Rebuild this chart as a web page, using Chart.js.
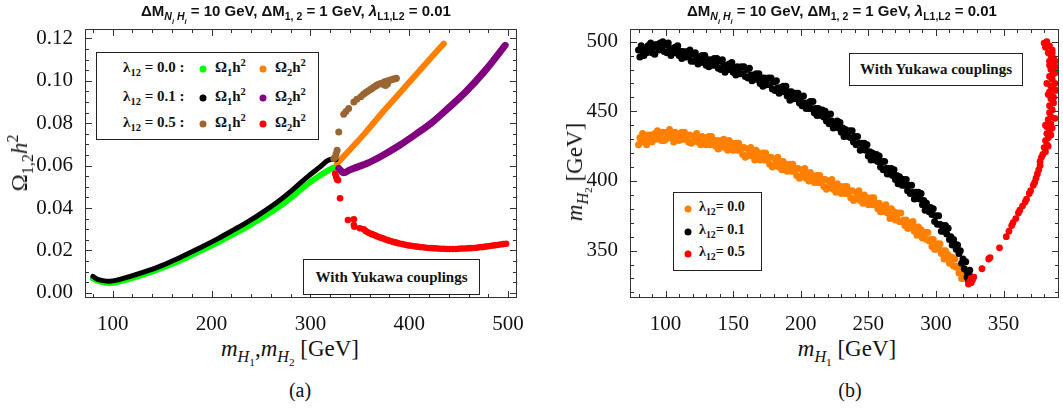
<!DOCTYPE html>
<html>
<head>
<meta charset="utf-8">
<script src="https://cdn.jsdelivr.net/npm/chart.js@4"></script>
<style>
body{margin:0;width:1063px;height:411px;overflow:hidden;background:#fff;position:relative;font-family:'Liberation Serif',serif;color:#111}
.abs{position:absolute;white-space:nowrap}
.c{transform:translate(-50%,-50%)}
.title{font:bold 15px 'Liberation Sans',Arial,sans-serif}
.axt{font-size:23px}
.cap{font-size:20px}
.box{position:absolute;border:1.5px solid #222;background:#fff;box-sizing:border-box}
.lg{font-weight:bold;font-size:15px}
.dot{position:absolute;width:7px;height:7px;border-radius:50%;transform:translate(-50%,-50%)}
.yk{font-weight:bold;font-size:15px;display:flex;align-items:center;justify-content:center}
sub,sup{font-size:70%;line-height:0}
</style>
</head>
<body>
<div class="abs" style="left:0;top:0;width:530px;height:330px"><canvas id="ca"></canvas></div>
<div class="abs" style="left:545px;top:0;width:518px;height:330px"><canvas id="cb"></canvas></div>

<div class="abs c title" style="left:296px;top:12px">ΔM<sub><i>N<sub>i</sub> H<sub>i</sub></i></sub> = 10 GeV, ΔM<sub>1, 2</sub> = 1 GeV, <i>λ</i><sub>L1,L2</sub> = 0.01</div>
<div class="abs c title" style="left:842px;top:12px">ΔM<sub><i>N<sub>i</sub> H<sub>i</sub></i></sub> = 10 GeV, ΔM<sub>1, 2</sub> = 1 GeV, <i>λ</i><sub>L1,L2</sub> = 0.01</div>

<div class="abs c axt" style="left:20px;top:163px;transform:translate(-50%,-50%) rotate(-90deg)">Ω<sub>1,2</sub><i>h</i><sup>2</sup></div>
<div class="abs c axt" style="left:575px;top:172px;transform:translate(-50%,-50%) rotate(-90deg)"><i>m</i><sub><i>H</i><sub>2</sub></sub> [GeV]</div>
<div class="abs c axt" style="left:290px;top:349px"><i>m</i><sub><i>H</i><sub>1</sub></sub>,<i>m</i><sub><i>H</i><sub>2</sub></sub> [GeV]</div>
<div class="abs c axt" style="left:847px;top:349px"><i>m</i><sub><i>H</i><sub>1</sub></sub> [GeV]</div>
<div class="abs c cap" style="left:300px;top:390px">(a)</div>
<div class="abs c cap" style="left:850px;top:390px">(b)</div>

<div class="box" style="left:96px;top:52px;width:223px;height:88px"></div>
<div class="abs lg" style="left:123px;top:59px">λ<sub>12</sub> = 0.0 :</div>
<div class="abs lg" style="left:123px;top:88px">λ<sub>12</sub> = 0.1 :</div>
<div class="abs lg" style="left:123px;top:114px">λ<sub>12</sub> = 0.5 :</div>
<div class="dot" style="left:203px;top:69px;background:#00ff00"></div>
<div class="dot" style="left:203px;top:98px;background:#000"></div>
<div class="dot" style="left:203px;top:124px;background:#996633"></div>
<div class="dot" style="left:263px;top:69px;background:#ff8000"></div>
<div class="dot" style="left:263px;top:98px;background:#800080"></div>
<div class="dot" style="left:263px;top:124px;background:#ff0000"></div>
<div class="abs lg" style="left:215px;top:59px">Ω<sub>1</sub>h<sup>2</sup></div>
<div class="abs lg" style="left:215px;top:88px">Ω<sub>1</sub>h<sup>2</sup></div>
<div class="abs lg" style="left:215px;top:114px">Ω<sub>1</sub>h<sup>2</sup></div>
<div class="abs lg" style="left:275px;top:59px">Ω<sub>2</sub>h<sup>2</sup></div>
<div class="abs lg" style="left:275px;top:88px">Ω<sub>2</sub>h<sup>2</sup></div>
<div class="abs lg" style="left:275px;top:114px">Ω<sub>2</sub>h<sup>2</sup></div>
<div class="box yk" style="left:303px;top:259px;width:177px;height:36px">With Yukawa couplings</div>

<div class="box" style="left:673px;top:192px;width:89px;height:79px"></div>
<div class="dot" style="left:688px;top:209px;background:#ff8000"></div>
<div class="dot" style="left:688px;top:232px;background:#000"></div>
<div class="dot" style="left:688px;top:254px;background:#ff0000"></div>
<div class="abs lg" style="left:699px;top:199px;font-size:14px">λ<sub>12</sub>= 0.0</div>
<div class="abs lg" style="left:699px;top:222px;font-size:14px">λ<sub>12</sub>= 0.1</div>
<div class="abs lg" style="left:699px;top:244px;font-size:14px">λ<sub>12</sub>= 0.5</div>
<div class="box yk" style="left:849px;top:53px;width:174px;height:33px">With Yukawa couplings</div>

<script>
// ---- panel (a): relic density vs mass ----
var xTicksA = [100, 200, 300, 400, 500];
var yTicksA = [0, 0.02, 0.04, 0.06, 0.08, 0.10, 0.12];

var greenA = [[80,0.0068],[85,0.0058],[90,0.0051],[97,0.0047],[105,0.0052],[117,0.0066],[132,0.0088],[147,0.0113],[162,0.0141],[177,0.0172],[192,0.0205],[207,0.0240],[222,0.0277],[237,0.0315],[252,0.0357],[267,0.0402],[282,0.0455],[297,0.0513],[310,0.0555],[318,0.0578],[323,0.0590]];
var blackA = [[80,0.0078],[84,0.0066],[90,0.0058],[97,0.0055],[105,0.0061],[117,0.0077],[132,0.0099],[147,0.0124],[162,0.0154],[177,0.0187],[192,0.0221],[207,0.0257],[222,0.0296],[237,0.0336],[252,0.0381],[267,0.0430],[282,0.0486],[297,0.0547],[310,0.0595],[318,0.0625],[323,0.0630],[326,0.0628]];
var orangeA = [[327,0.0610],[340,0.0675],[355,0.0752],[373.7,0.0855],[390,0.0940],[407,0.1030],[420,0.1098],[435,0.1175]];
var purpleA = [[328.7,0.0587],[331,0.0575],[333.7,0.0566],[340,0.0580],[348,0.0594],[357,0.0610],[373,0.0648],[390.3,0.0696],[407,0.0749],[423.7,0.0806],[440,0.0873],[457,0.0947],[477,0.1049],[497,0.1167]];
var brownA = [[323.7,0.0634],[325,0.0640],[326,0.0655],[327,0.0673],[328.7,0.0759],[333.7,0.0842],[336,0.0855],[338.7,0.0869],[344,0.0900],[347,0.0913],[351,0.0925],[353.7,0.0936],[356,0.0945],[358,0.0950],[360.3,0.0958],[362,0.0962],[364,0.0970],[366,0.0975],[367,0.0979],[369,0.0983],[371,0.0987],[373.7,0.0990],[375,0.0995],[377,0.0998],[379,0.1000],[380.3,0.1002],[382,0.1005],[384,0.1008],[386,0.1010],[387,0.1012],[376,0.0978],[378,0.0985],[374,0.0982]];
var redA = [[325,0.0563],[326,0.0548],[327,0.0535],[328,0.0531],[330,0.0446],[338,0.0344],[344,0.0347],[344,0.0320],[344.5,0.0312],[350,0.0305],[354,0.0300],[356,0.0292],[358,0.0286],[360,0.0281],[362,0.0277],[364,0.0274],[366,0.0270],[368,0.0266],[370,0.0262],[372,0.0259],[374,0.0256],[376,0.0252],[378,0.0249],[380,0.0246],[382,0.0243],[384,0.0240],[386,0.0238],[388,0.0235],[390,0.0233],[393,0.0230],[396,0.0227],[399,0.0224],[402,0.0222],[405,0.0220],[408,0.0218],[411,0.0216],[414,0.0215],[417,0.0213],[420,0.0212],[423,0.0211],[426,0.0210],[429,0.0209],[432,0.0208],[435,0.0208],[438,0.0207],[441,0.0207],[444,0.0207],[447,0.0207],[450,0.0208],[453,0.0209],[456,0.0209],[459,0.0210],[462,0.0211],[465,0.0212],[468,0.0213],[471,0.0215],[474,0.0216],[477,0.0218],[480,0.0220],[483,0.0222],[486,0.0224],[489,0.0226],[492,0.0228],[495,0.0230],[498,0.0232]];

// ---- panel (b): m_H2 vs m_H1 ----
var xTicksB = [100, 150, 200, 250, 300, 350];
var yTicksB = [350, 400, 450, 500];

var orangeB = [[80,426],[81,431],[82,429],[83,434],[84,428],[85,431],[86,426],[87,433],[88,430],[89,433],[90,428],[91,431],[92,434],[93,430],[94,436],[95,431],[96,433],[97,429],[98,435],[99,429],
[100,430],[101,435],[102,433],[103,437],[104,431],[105,434],[106,428],[107,435],[108,431],[109,434],[110,429],[111,432],[112,435],[113,430],[114,435],[115,430],[116,432],[117,428],[118,433],[119,427],
[120,428],[121,432],[122,430],[123,434],[124,428],[125,431],[126,426],[127,432],[128,428],[129,431],[130,426],[131,429],[132,432],[133,426],[134,432],[135,427],[136,429],[137,425],[138,429],[139,423],
[140,424],[141,429],[142,427],[143,430],[144,424],[145,427],[146,422],[147,429],[148,424],[149,427],[150,422],[151,425],[152,427],[153,422],[154,427],[155,422],[156,424],[157,419],[158,424],[159,417],
[160,418],[161,423],[162,420],[163,424],[164,418],[165,421],[166,415],[167,422],[168,418],[169,420],[170,415],[171,418],[172,420],[173,415],[174,420],[175,415],[176,417],[177,412],[178,417],[179,410],
[180,411],[181,416],[182,413],[183,417],[184,410],[185,413],[186,408],[187,414],[188,410],[189,412],[190,407],[191,410],[192,412],[193,407],[194,412],[195,407],[196,409],[197,404],[198,409],[199,402],
[200,403],[201,408],[202,405],[203,409],[204,402],[205,405],[206,400],[207,406],[208,402],[209,404],[210,399],[211,402],[212,404],[213,399],[214,404],[215,399],[216,401],[217,396],[218,401],[219,394],
[220,395],[221,400],[222,397],[223,401],[224,394],[225,397],[226,392],[227,398],[228,394],[229,396],[230,391],[231,394],[232,396],[233,391],[234,396],[235,391],[236,393],[237,388],[238,393],[239,386],
[240,387],[241,392],[242,389],[243,393],[244,386],[245,389],[246,384],[247,390],[248,386],[249,388],[250,383],[251,386],[252,388],[253,383],[254,388],[255,383],[256,384],[257,380],[258,384],[259,378],
[260,378],[261,382],[262,380],[263,383],[264,377],[265,379],[266,373],[267,380],[268,375],[269,378],[270,372],[271,374],[272,377],[273,371],[274,377],[275,371],[276,372],[277,368],[278,372],[279,366],
[280,366],[281,370],[282,368],[283,371],[284,364],[285,367],[286,361],[287,367],[288,362],[289,365],[290,359],[291,361],[292,363],[293,358],[294,363],[295,357],[296,358],[297,353],[298,358],[299,351],
[300,351],[301,355],[302,352],[303,355],[304,348],[305,350],[306,344],[307,350],[308,345],[309,347],[310,341],[311,343],[312,345],[313,339],[314,344],[315,338],[316,339],[317,334],[318,337],[319,330],
[320,330],[321,334],[322,331],[323,333],[324,327],[325,329]];
var blackB = [[80,494],[81,489],[82,497],[83,493],[84,490],[85,495],[86,492],[87,497],[88,494],[89,499],[90,492],[91,496],[92,491],[93,498],[94,496],[95,494],[96,499],[97,495],[98,500],[99,493],
[100,498],[101,492],[102,499],[103,495],[104,490],[105,495],[106,492],[107,496],[108,492],[109,497],[110,490],[111,493],[112,488],[113,493],[114,491],[115,489],[116,493],[117,489],[118,494],[119,486],
[120,491],[121,486],[122,492],[123,488],[124,484],[125,489],[126,485],[127,490],[128,486],[129,490],[130,483],[131,487],[132,482],[133,487],[134,485],[135,483],[136,488],[137,483],[138,488],[139,481],
[140,486],[141,480],[142,487],[143,483],[144,478],[145,483],[146,480],[147,484],[148,480],[149,485],[150,478],[151,481],[152,476],[153,482],[154,479],[155,477],[156,482],[157,477],[158,482],[159,475],
[160,480],[161,474],[162,481],[163,476],[164,472],[165,476],[166,473],[167,477],[168,473],[169,477],[170,470],[171,474],[172,468],[173,474],[174,471],[175,469],[176,474],[177,469],[178,474],[179,466],
[180,471],[181,465],[182,472],[183,467],[184,463],[185,467],[186,464],[187,468],[188,464],[189,468],[190,461],[191,464],[192,458],[193,464],[194,461],[195,459],[196,463],[197,459],[198,463],[199,456],
[200,460],[201,454],[202,461],[203,456],[204,452],[205,456],[206,452],[207,457],[208,452],[209,457],[210,449],[211,452],[212,447],[213,452],[214,449],[215,447],[216,451],[217,446],[218,450],[219,443],
[220,447],[221,441],[222,448],[223,443],[224,438],[225,442],[226,439],[227,443],[228,438],[229,442],[230,435],[231,438],[232,432],[233,437],[234,435],[235,432],[236,436],[237,431],[238,436],[239,428],
[240,432],[241,426],[242,432],[243,427],[244,422],[245,427],[246,423],[247,427],[248,422],[249,426],[250,418],[251,421],[252,415],[253,420],[254,417],[255,415],[256,419],[257,414],[258,418],[259,410],
[260,414],[261,408],[262,414],[263,409],[264,405],[265,409],[266,405],[267,409],[268,404],[269,408],[270,401],[271,404],[272,398],[273,403],[274,400],[275,397],[276,401],[277,397],[278,401],[279,393],
[280,397],[281,391],[282,397],[283,392],[284,387],[285,392],[286,388],[287,392],[288,387],[289,391],[290,383],[291,386],[292,379],[293,384],[294,381],[295,378],[296,381],[297,376],[298,380],[299,371],
[300,375],[301,369],[302,375],[303,369],[304,364],[305,368],[306,364],[307,368],[308,362],[309,366],[310,358],[311,360],[312,354],[313,358],[314,355],[315,351],[316,354],[317,348],[318,350],[319,341],
[320,344],[321,337],[322,342],[323,335],[324,329],[325,332],[326,330],[323,331],[325,336]];
var redB = [[324,326],[325,328],[326,327],[327,329],[328,331],[326,330],[334,337],[339,344],[340,345],[347,352],[352,360],[354,364],[356,368],[357,370],[359,373],[361,377],[362,379],[364,382],[366,385],[367,387],[369,391],[370,393],[372,397],[373,399],[374,402],[375,405],[376,408],[377,411],[377,414],[378,417],[379,419],[381,421],[380,424],[382,426],[381,429],[383,431],[382,434],[384,436],[382,439],[385,441],[383,444],[385,446],[384,449],[386,451],[384,454],[387,456],[385,459],[386,461],[384,464],[387,466],[385,468],[388,470],[386,473],[384,475],[387,477],[385,480],[388,482],[386,484],[384,486],[387,488],[385,490],[383,492],[386,494],[381,496],[384,497],[380,499],[382,500],
[388,445],[386,438],[387,460],[389,478],[383,462],[386,492],[388,486],[381,440],[383,425],[385,433],[389,465],[382,470],[384,483]];

function pts(a) { return a.map(function (p) { return { x: p[0], y: p[1] }; }); }

// draws the Mathematica-like frame with inward ticks on all four sides
var frameTicks = {
  id: 'frameTicks',
  afterDraw: function (chart, args, o) {
    var ctx = chart.ctx, a = chart.chartArea, x = chart.scales.x, y = chart.scales.y;
    ctx.save();
    ctx.strokeStyle = '#333';
    ctx.lineWidth = 1;
    ctx.strokeRect(a.left + 0.5, a.top + 0.5, a.right - a.left - 1, a.bottom - a.top - 1);
    ctx.beginPath();
    var i, v, p, len;
    for (i = Math.ceil(x.min / o.xMinor); i * o.xMinor <= x.max; i++) {
      v = i * o.xMinor;
      p = Math.round(x.getPixelForValue(v)) + 0.5;
      len = (i % o.xPer === 0) ? 7 : 4;
      ctx.moveTo(p, a.bottom); ctx.lineTo(p, a.bottom - len);
      ctx.moveTo(p, a.top); ctx.lineTo(p, a.top + len);
    }
    for (i = Math.ceil(y.min / o.yMinor); i * o.yMinor <= y.max + 1e-9; i++) {
      v = i * o.yMinor;
      p = Math.round(y.getPixelForValue(v)) + 0.5;
      len = (i % o.yPer === 0) ? 7 : 4;
      ctx.moveTo(a.left, p); ctx.lineTo(a.left + len, p);
      ctx.moveTo(a.right, p); ctx.lineTo(a.right - len, p);
    }
    ctx.stroke();
    ctx.restore();
  }
};

var tickFont = { family: "'Liberation Serif', serif", size: 21 };

function axes(xmin, xmax, ymin, ymax, xt, yt, fmt) {
  return {
    x: {
      type: 'linear', min: xmin, max: xmax,
      grid: { display: false }, border: { display: false },
      afterBuildTicks: function (s) { s.ticks = xt.map(function (v) { return { value: v }; }); },
      afterFit: function (s) { s.height = 32; },
      ticks: { font: tickFont, color: '#111', padding: 6, maxRotation: 0 }
    },
    y: {
      type: 'linear', min: ymin, max: ymax,
      grid: { display: false }, border: { display: false },
      afterBuildTicks: function (s) { s.ticks = yt.map(function (v) { return { value: v }; }); },
      afterFit: function (s) { s.width = 85; },
      ticks: { font: tickFont, color: '#111', padding: 4, callback: fmt }
    }
  };
}

function lineSet(data, color, w) {
  return { data: pts(data), showLine: true, borderColor: color, backgroundColor: color,
    borderWidth: w, pointRadius: 0, tension: 0.4, cubicInterpolationMode: 'monotone',
    borderCapStyle: 'round', borderJoinStyle: 'round' };
}
function dotSet(data, color, r) {
  return { data: pts(data), showLine: false, backgroundColor: color, borderWidth: 0, pointRadius: r };
}

new Chart(document.getElementById('ca'), {
  type: 'scatter',
  data: {
    datasets: [
      dotSet(redA, '#ff0000', 3.3),
      dotSet(brownA, '#996633', 3.5),
      lineSet(purpleA, '#800080', 7),
      lineSet(blackA, '#000000', 5),
      lineSet(orangeA, '#ff8000', 6),
      lineSet(greenA, '#00ff00', 6)
    ]
  },
  options: {
    responsive: true, maintainAspectRatio: false, animation: false,
    layout: { padding: { top: 29, right: 8, left: 0, bottom: 0 } },
    plugins: { legend: { display: false }, tooltip: { enabled: false },
      frameTicks: { xMinor: 20, xPer: 5, yMinor: 0.005, yPer: 4 } },
    scales: axes(72, 509, -0.0024, 0.1244, xTicksA, yTicksA, function (v) { return v.toFixed(2); })
  },
  plugins: [frameTicks]
});

new Chart(document.getElementById('cb'), {
  type: 'scatter',
  data: {
    datasets: [
      dotSet(redB, '#ff0000', 3.4),
      dotSet(blackB, '#000000', 3.5),
      dotSet(orangeB, '#ff8000', 3.5)
    ]
  },
  options: {
    responsive: true, maintainAspectRatio: false, animation: false,
    layout: { padding: { top: 29, right: 0, left: 0, bottom: 0 } },
    plugins: { legend: { display: false }, tooltip: { enabled: false },
      frameTicks: { xMinor: 10, xPer: 5, yMinor: 10, yPer: 5 } },
    scales: axes(73.7, 391, 316, 509.1, xTicksB, yTicksB, function (v) { return v; })
  },
  plugins: [frameTicks]
});
</script>
</body>
</html>
